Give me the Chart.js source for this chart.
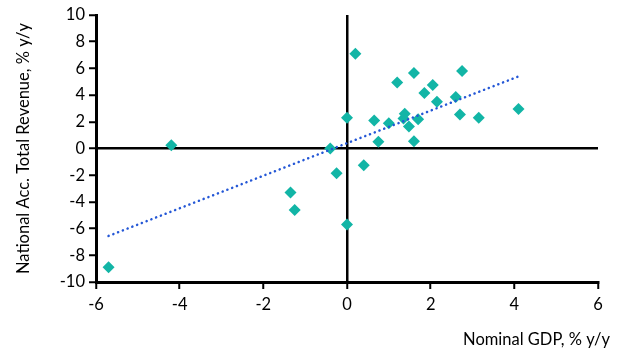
<!DOCTYPE html>
<html>
<head>
  <meta charset="utf-8" />
  <script src="https://cdn.jsdelivr.net/npm/chart.js@4.4.0/dist/chart.umd.min.js"></script>
  <style>
    html, body {
      margin: 0;
      padding: 0;
      background: #ffffff;
    }
    .chart-box {
      width: 627px;
      height: 353px;
    }
  </style>
</head>
<body>
  <div class="chart-box">
    <canvas id="revenueChart"></canvas>
  </div>
  <script>
    // nominal GDP growth, % y/y
    let gdpGrowth = [
      -5.7, -4.2, -0.4, -0.25, 0.0, 0.0, 0.2, 0.4, -1.35, -1.25,
      0.65, 0.75, 1.2, 1.6, 1.0, 1.38, 1.35, 1.48, 1.7, 1.6,
      1.85, 2.05, 2.15, 2.6, 2.75, 2.7, 3.15, 4.1,
    ];
    // national accounts total revenue, % y/y
    let revenueGrowth = [
      -8.9, 0.25, 0.0, -1.85, 2.3, -5.7, 7.1, -1.25, -3.3, -4.6,
      2.1, 0.5, 4.95, 5.65, 1.9, 2.6, 2.25, 1.65, 2.2, 0.55,
      4.15, 4.75, 3.5, 3.85, 5.8, 2.55, 2.3, 2.95,
    ];
    // trend line ends
    let trendX = [-5.7, 4.1];
    let trendY = [-6.55, 5.4];

    let xTicks = [-6, -4, -2, 0, 2, 4, 6];
    let yTicks = [-10, -8, -6, -4, -2, 0, 2, 4, 6, 8, 10];
    let xTitle = "Nominal GDP, % y/y";
    let yTitle = "National Acc. Total Revenue, % y/y";

    let chartFont = "Lato, 'Open Sans', sans-serif";
    let pointColor = "#12b5a6";
    let trendColor = "#2457d6";

    let scatterData = gdpGrowth.map((x, i) => ({ x: x, y: revenueGrowth[i] }));
    let trendData = trendX.map((x, i) => ({ x: x, y: trendY[i] }));

    function zeroLine(ctx) {
      return ctx.tick && ctx.tick.value === 0 ? "#000000" : "rgba(0,0,0,0)";
    }

    // x title sits a bit past the plot's right edge, like the original
    const xTitlePlugin = {
      id: "xTitlePlugin",
      afterDraw(chart) {
        const c = chart.ctx;
        c.save();
        c.fillStyle = "#000000";
        c.font = "16.5px " + chartFont;
        c.textAlign = "right";
        c.textBaseline = "middle";
        c.fillText(xTitle, chart.chartArea.right + 12, chart.height - 13);
        c.restore();
      },
    };

    let ctx = document.getElementById("revenueChart").getContext("2d");
    new Chart(ctx, {
      type: "scatter",
      data: {
        datasets: [
          {
            label: "Trend",
            type: "line",
            data: trendData,
            borderColor: trendColor,
            borderWidth: 2.5,
            borderDash: [0.1, 5],
            borderCapStyle: "round",
            pointRadius: 0,
            fill: false,
            order: 1,
          },
          {
            label: "Revenue vs GDP",
            data: scatterData,
            pointStyle: "rectRot",
            pointRadius: 6,
            pointBorderWidth: 0,
            backgroundColor: pointColor,
            borderColor: pointColor,
            order: 2,
          },
        ],
      },
      plugins: [xTitlePlugin],
      options: {
        responsive: true,
        maintainAspectRatio: false,
        animation: false,
        layout: {
          padding: { top: 15, right: 29, left: 4, bottom: 4 },
        },
        plugins: {
          legend: { display: false },
          tooltip: { enabled: false },
        },
        scales: {
          x: {
            type: "linear",
            min: -6,
            max: 6,
            afterBuildTicks: (axis) => {
              axis.ticks = xTicks.map((v) => ({ value: v }));
            },
            afterFit: (axis) => {
              axis.height = 67;
            },
            grid: {
              color: zeroLine,
              lineWidth: 2.5,
              tickColor: "#000000",
              tickLength: 7,
              tickWidth: 2,
            },
            border: { color: "#000000", width: 3 },
            ticks: {
              color: "#000000",
              font: { family: chartFont, size: 16.5 },
              padding: 6,
            },
          },
          y: {
            type: "linear",
            min: -10,
            max: 10,
            afterBuildTicks: (axis) => {
              axis.ticks = yTicks.map((v) => ({ value: v }));
            },
            afterFit: (axis) => {
              axis.width = 92;
            },
            grid: {
              color: zeroLine,
              lineWidth: 2.5,
              tickColor: "#000000",
              tickLength: 7,
              tickWidth: 2,
            },
            border: { color: "#000000", width: 3 },
            ticks: {
              color: "#000000",
              font: { family: chartFont, size: 16.5 },
              padding: 4,
            },
            title: {
              display: true,
              text: yTitle,
              color: "#000000",
              font: { family: chartFont, size: 16.5 },
              padding: { top: 10, bottom: 2 },
            },
          },
        },
      },
    });
  </script>
</body>
</html>
